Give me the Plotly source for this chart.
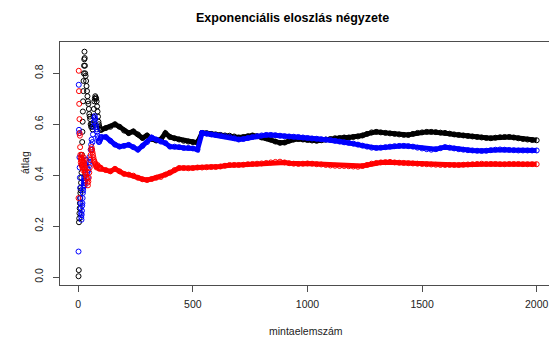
import plotly.graph_objects as go

N_VALUES = list(range(1, 31)) + list(range(32, 101, 2)) + list(range(120, 2001, 20))

BLACK = [
    0.003, 0.027, 0.215, 0.23, 0.25, 0.27, 0.29, 0.31, 0.33, 0.35,
    0.34, 0.37, 0.39, 0.41, 0.44, 0.48, 0.53, 0.57, 0.61, 0.65,
    0.69, 0.73, 0.77, 0.80, 0.83, 0.855, 0.885, 0.86, 0.83, 0.80,
    # 32..100 step 2
    0.79, 0.77, 0.75, 0.73, 0.71, 0.69, 0.68, 0.66, 0.64, 0.63,
    0.62, 0.60, 0.59, 0.60, 0.59, 0.58, 0.60, 0.63, 0.66, 0.69,
    0.70, 0.71, 0.705, 0.70, 0.69, 0.67, 0.65, 0.63, 0.61, 0.60,
    0.59, 0.585, 0.58, 0.578, 0.578,
    # 120..2000 step 20
    0.585, 0.59, 0.6, 0.59, 0.575, 0.565, 0.572, 0.56, 0.546, 0.556,
    0.542, 0.536, 0.54, 0.565, 0.55, 0.545, 0.54, 0.535, 0.532, 0.53,
    0.528, 0.566, 0.565, 0.562, 0.56, 0.558, 0.556, 0.555, 0.552, 0.548,
    0.55, 0.553, 0.556, 0.553, 0.548, 0.545, 0.54, 0.532, 0.527, 0.528,
    0.536, 0.54, 0.542, 0.54, 0.538, 0.536, 0.535, 0.537, 0.54, 0.542,
    0.545, 0.546, 0.548, 0.548, 0.55, 0.552, 0.556, 0.562, 0.568, 0.57,
    0.568, 0.566, 0.564, 0.562, 0.56, 0.558, 0.558, 0.562, 0.566, 0.568,
    0.57, 0.57, 0.569, 0.567, 0.566, 0.563, 0.56, 0.558, 0.556, 0.554,
    0.552, 0.55, 0.548, 0.546, 0.545, 0.547, 0.549, 0.55, 0.55, 0.548,
    0.545, 0.542, 0.54, 0.538, 0.537,
]

BLUE = [
    0.10, 0.755, 0.578, 0.565, 0.47, 0.43, 0.39, 0.35, 0.31, 0.29,
    0.27, 0.25, 0.235, 0.225, 0.245, 0.26, 0.28, 0.29, 0.31, 0.33,
    0.34, 0.35, 0.36, 0.37, 0.38, 0.39, 0.37, 0.36, 0.37, 0.38,
    # 32..100 step 2
    0.41, 0.44, 0.46, 0.43, 0.41, 0.39, 0.42, 0.45, 0.47, 0.44,
    0.46, 0.50, 0.52, 0.54, 0.50, 0.53, 0.56, 0.59, 0.61, 0.625,
    0.632, 0.62, 0.60, 0.59, 0.58, 0.57, 0.555, 0.545, 0.535, 0.53,
    0.532, 0.538, 0.542, 0.546, 0.55,
    # 120..2000 step 20
    0.55, 0.535, 0.52, 0.512, 0.515, 0.519, 0.51, 0.50, 0.515, 0.53,
    0.548, 0.54, 0.532, 0.526, 0.512, 0.512, 0.51, 0.507, 0.507, 0.505,
    0.50, 0.566, 0.563, 0.56, 0.558, 0.556, 0.553, 0.55, 0.545, 0.54,
    0.542, 0.546, 0.55, 0.553, 0.556, 0.558, 0.558, 0.557, 0.555, 0.553,
    0.552, 0.551, 0.55, 0.548, 0.546, 0.544, 0.543, 0.541, 0.54, 0.538,
    0.535, 0.532, 0.529, 0.527, 0.524, 0.52, 0.516, 0.512, 0.508, 0.507,
    0.508, 0.51, 0.512, 0.514, 0.515, 0.515, 0.514, 0.512, 0.508, 0.505,
    0.502, 0.50, 0.502, 0.506, 0.51, 0.508, 0.505, 0.502, 0.50, 0.498,
    0.497, 0.496, 0.495, 0.496, 0.498, 0.50, 0.501, 0.50, 0.499, 0.498,
    0.497, 0.497, 0.497, 0.497, 0.497,
]

RED = [
    0.31, 0.81, 0.73, 0.68, 0.62, 0.565, 0.555, 0.51, 0.48, 0.47,
    0.45, 0.46, 0.44, 0.47, 0.48, 0.46, 0.45, 0.43, 0.44, 0.42,
    0.43, 0.45, 0.47, 0.46, 0.45, 0.44, 0.43, 0.42, 0.41, 0.42,
    # 32..100 step 2
    0.41, 0.40, 0.39, 0.385, 0.37, 0.36, 0.375, 0.39, 0.41, 0.43,
    0.46, 0.48, 0.50, 0.51, 0.50, 0.49, 0.48, 0.47, 0.46, 0.455,
    0.45, 0.445, 0.44, 0.435, 0.43, 0.435, 0.44, 0.435, 0.43, 0.428,
    0.425, 0.428, 0.43, 0.428, 0.425,
    # 120..2000 step 20
    0.42, 0.415, 0.425, 0.415, 0.405, 0.402, 0.398, 0.39, 0.384, 0.381,
    0.385, 0.39, 0.393, 0.402, 0.41, 0.42, 0.428, 0.428, 0.427, 0.428,
    0.43, 0.43, 0.431, 0.432, 0.432, 0.434, 0.437, 0.44, 0.44, 0.44,
    0.441, 0.443, 0.444, 0.445, 0.446, 0.448, 0.45, 0.452, 0.453, 0.45,
    0.447, 0.445, 0.444, 0.445, 0.446, 0.445, 0.443, 0.442, 0.44, 0.438,
    0.437, 0.436, 0.436, 0.435, 0.434, 0.433, 0.436, 0.44, 0.445, 0.448,
    0.45, 0.451, 0.452, 0.45, 0.449, 0.448, 0.447, 0.446, 0.445, 0.444,
    0.443, 0.442, 0.441, 0.44, 0.44, 0.44, 0.44, 0.44, 0.441, 0.442,
    0.443, 0.444, 0.445, 0.444, 0.444, 0.444, 0.443, 0.443, 0.444, 0.444,
    0.444, 0.443, 0.443, 0.443, 0.443,
]

SERIES = [("black", "#000000", BLACK), ("blue", "#0000FF", BLUE), ("red", "#FF0000", RED)]

X_TICKS = [0, 500, 1000, 1500, 2000]
Y_TICKS = [0.0, 0.2, 0.4, 0.6, 0.8]
Y_TICK_LABELS = ["0.0", "0.2", "0.4", "0.6", "0.8"]

TITLE = "Exponenciális eloszlás négyzete"
X_TITLE = "mintaelemszám"
Y_TITLE = "átlag"

FONT = "Liberation Sans, Arial, sans-serif"
AXIS_COLOR = "#4d4d4d"
TEXT_COLOR = "#222222"

fig = go.Figure()
for name, color, vals in SERIES:
    n = min(len(N_VALUES), len(vals))
    xs = N_VALUES[:n]
    ys = vals[:n]
    # dense part (n >= 100) looks like a solid band of overlapping circles
    dense_x = [x for x in xs if x >= 100]
    dense_y = [y for x, y in zip(xs, ys) if x >= 100]
    fig.add_trace(go.Scatter(
        x=dense_x, y=dense_y, mode="lines",
        line=dict(color=color, width=5),
        hoverinfo="skip", showlegend=False,
    ))
    fig.add_trace(go.Scatter(
        x=xs, y=ys, mode="markers", name=name,
        marker=dict(symbol="circle-open", size=5, color=color, line=dict(width=1, color=color)),
        showlegend=False,
    ))

fig.update_layout(
    width=549, height=340,
    margin=dict(l=60, r=0, t=42, b=55),
    paper_bgcolor="white", plot_bgcolor="white",
    font=dict(family=FONT, size=10.5, color=TEXT_COLOR),
    showlegend=False,
    xaxis=dict(
        range=[-79.8, 2053.7],
        tickvals=X_TICKS, ticktext=[str(v) for v in X_TICKS],
        showgrid=False, zeroline=False,
        showline=True, mirror=True, linecolor=AXIS_COLOR, linewidth=1,
        ticks="outside", ticklen=6, tickcolor=AXIS_COLOR, tickwidth=1,
        ticklabelstandoff=3,
        tickfont=dict(size=10.5, color=TEXT_COLOR),
    ),
    yaxis=dict(
        range=[-0.0314, 0.923],
        tickvals=Y_TICKS, ticktext=Y_TICK_LABELS,
        showgrid=False, zeroline=False,
        showline=True, mirror=False, linecolor=AXIS_COLOR, linewidth=1,
        ticks="outside", ticklen=6, tickcolor=AXIS_COLOR, tickwidth=1,
        tickangle=-90, ticklabelstandoff=6,
        tickfont=dict(size=10.5, color=TEXT_COLOR),
    ),
    annotations=[
        dict(text="<b>" + TITLE + "</b>", xref="paper", yref="paper",
             x=(292 - 60) / 489, y=1 + (42 - 18) / 243, xanchor="center", yanchor="middle",
             showarrow=False, font=dict(family=FONT, size=12.5, color="#000000")),
        dict(text=X_TITLE, xref="paper", yref="paper",
             x=(306 - 60) / 489, y=-(331 - 285) / 243, xanchor="center", yanchor="middle",
             showarrow=False, font=dict(family=FONT, size=10.5, color=TEXT_COLOR)),
        dict(text=Y_TITLE, xref="paper", yref="paper",
             x=-(60 - 25) / 489, y=(285 - 163) / 243, xanchor="center", yanchor="middle",
             textangle=-90, showarrow=False, font=dict(family=FONT, size=10.5, color=TEXT_COLOR)),
    ],
)

# remove the default 8px page margin so the 549x340 figure fills the window exactly
fig.write_html(
    "out.html",
    config={"displayModeBar": False},
    post_script="document.body.style.margin='0';document.body.style.overflow='hidden';",
)
